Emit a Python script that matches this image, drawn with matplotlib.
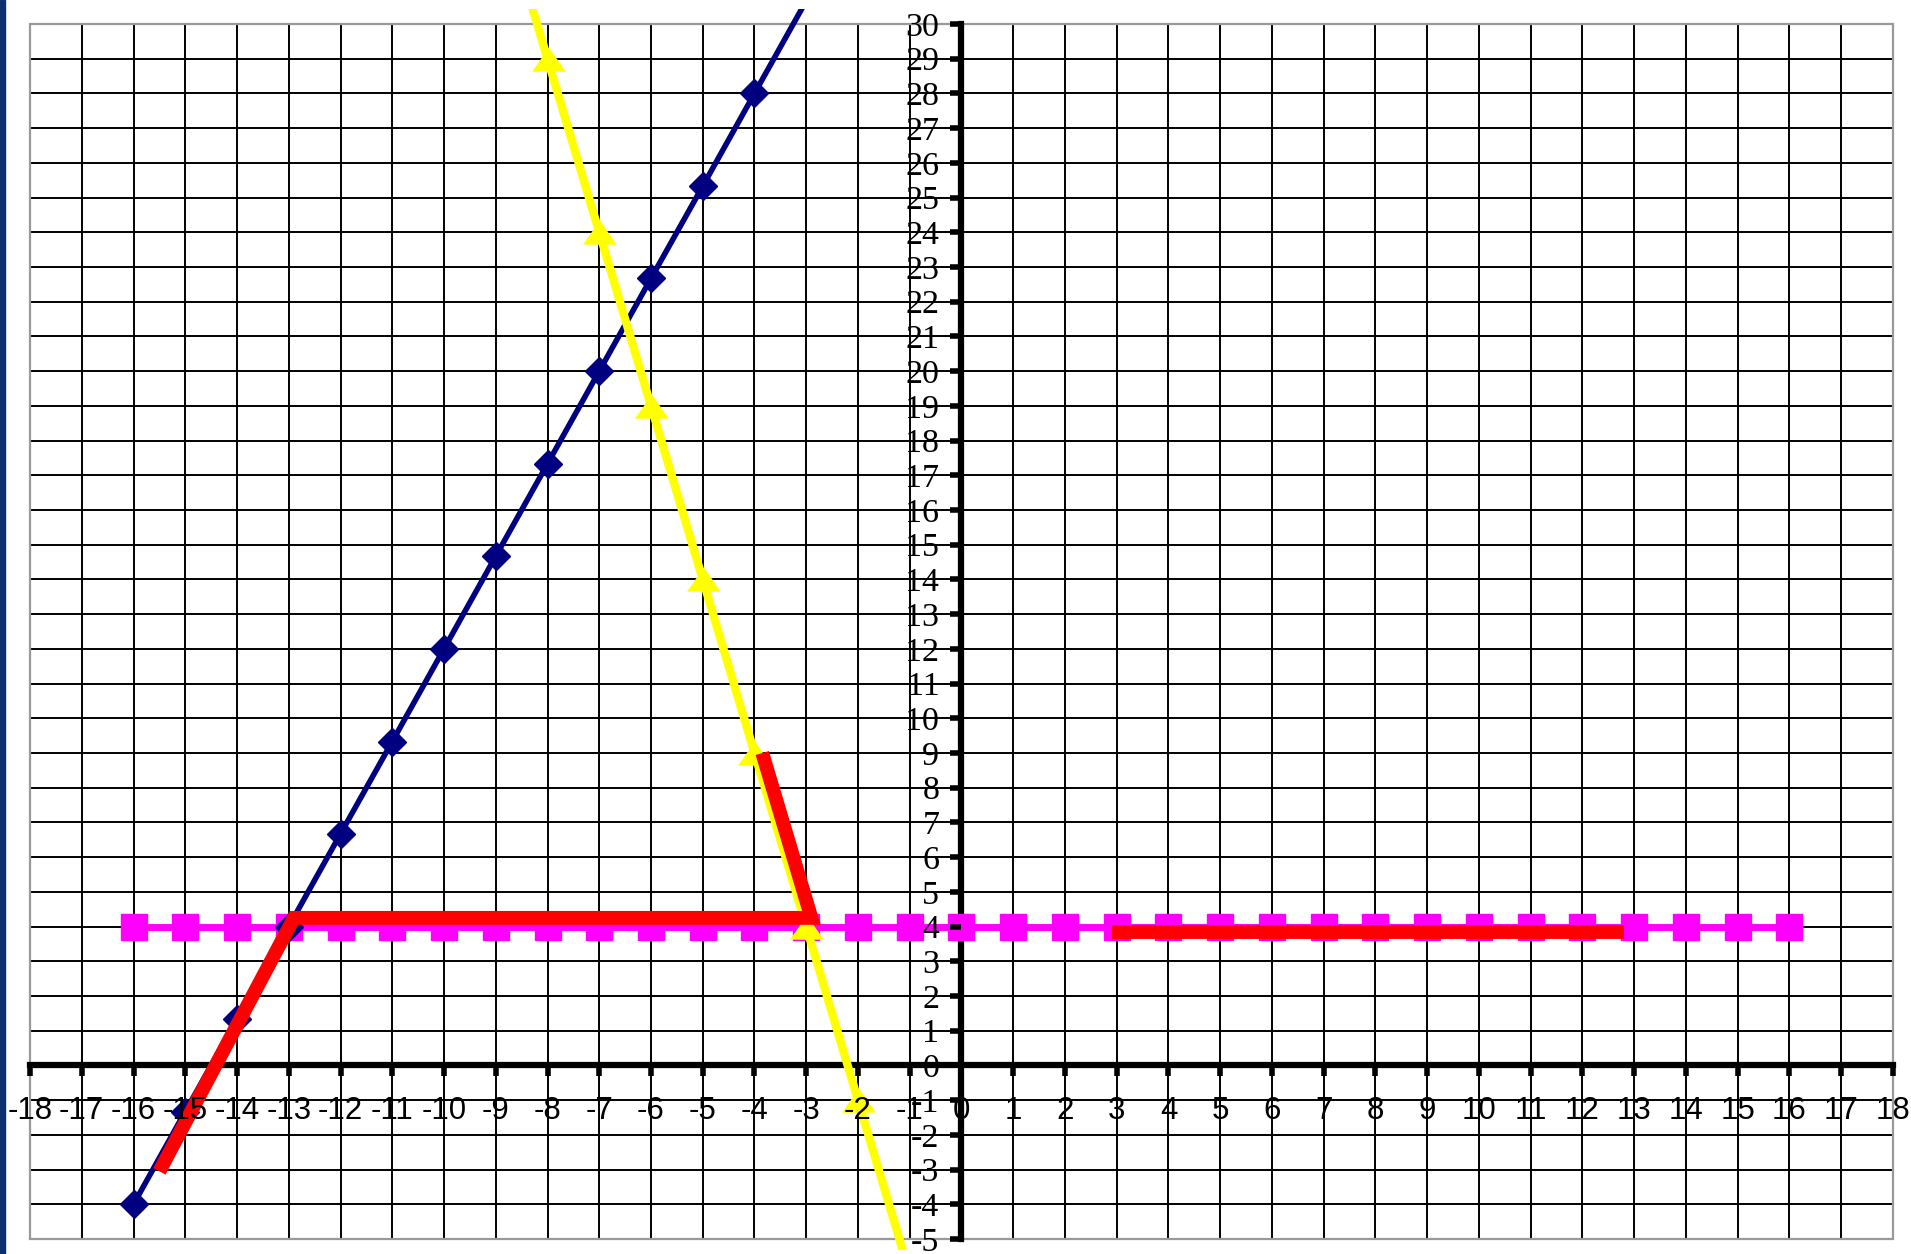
import numpy as np
import matplotlib.pyplot as plt
from matplotlib.patches import Rectangle

plt.rcParams['axes.unicode_minus'] = False

# datos
x_ticks = np.arange(-18, 19)
y_ticks = np.arange(-5, 31)

azul_x = [-16, -15, -14, -13, -12, -11, -10, -9, -8, -7, -6, -5, -4, -3]
azul_y = [-4, -1.33, 1.33, 4, 6.67, 9.33, 12, 14.67, 17.33, 20, 22.67, 25.33, 28, 30.67]

amarillo_x = [-9, -8, -7, -6, -5, -4, -3, -2, -1]
amarillo_y = [34, 29, 24, 19, 14, 9, 4, -1, -6]

magenta_x = list(range(-16, 17))
magenta_y = [4] * len(magenta_x)

rojo1_x = [-15.5, -12.9, -2.9, -3.85]
rojo1_y = [-3.05, 4.25, 4.25, 9.0]
rojo2_x = [2.9, 12.8]
rojo2_y = [3.85, 3.85]

fig = plt.figure(figsize=(19.11, 12.54), dpi=100)
ax = fig.add_axes([30 / 1911, 15 / 1254, 1863 / 1911, 1215 / 1254])
fig.patches.append(Rectangle((0, 0), 5 / 1911, 1, transform=fig.transFigure,
                             color='#0a3070', zorder=0))

ax.set_xlim(-18, 18)
ax.set_ylim(-5, 30)

# cuadricula
ax.vlines(x_ticks, -5, 30, color='black', lw=1.4, zorder=0.5)
ax.hlines(y_ticks, -18, 18, color='black', lw=1.4, zorder=0.5)

# marco gris
ax.add_patch(Rectangle((0, 0), 1, 1, transform=ax.transAxes, fill=False,
                       edgecolor='#999999', lw=1.6, zorder=0.8, clip_on=False))

# ejes en el origen
for s in ['top', 'right']:
    ax.spines[s].set_visible(False)
ax.spines['left'].set_position(('data', 0))
ax.spines['bottom'].set_position(('data', 0))
for s in ['left', 'bottom']:
    ax.spines[s].set_linewidth(4.5)
    ax.spines[s].set_color('black')
    ax.spines[s].set_zorder(1)

ax.set_xticks(x_ticks)
ax.set_yticks(y_ticks)
ax.tick_params(axis='x', direction='out', length=8, width=4, pad=14,
               labelsize=22.5)
ax.tick_params(axis='y', direction='out', length=8, width=4, pad=8,
               labelsize=24.5)
for t in ax.get_xticklabels():
    t.set_family('Liberation Sans')
for t in ax.get_yticklabels():
    t.set_family('Liberation Serif')
ax.xaxis.set_zorder(5)
ax.yaxis.set_zorder(5)

clip = Rectangle((0, -0.009), 1, 1.021, transform=ax.transAxes)

plt.plot(magenta_x, magenta_y, color='#FF00FF', lw=5, marker='s',
         markersize=19, zorder=2)
l_azul, = plt.plot(azul_x, azul_y, color='#000080', lw=4, marker='D',
                   markersize=14, markevery=slice(0, 13), zorder=2.1)
tri = [(-1, -0.72), (1, -0.72), (0, 0.72)]
l_amar, = plt.plot(amarillo_x, amarillo_y, color='#FFFF00', lw=6, marker=tri,
                   markersize=23, markevery=slice(1, 8), zorder=2.2)
l_azul.set_clip_path(clip)
l_amar.set_clip_path(clip)

plt.plot(rojo1_x, rojo1_y, color='#FF0000', lw=10, solid_capstyle='butt',
         solid_joinstyle='miter', zorder=3)
plt.plot(rojo2_x, rojo2_y, color='#FF0000', lw=10, solid_capstyle='butt',
         zorder=3)

plt.savefig('out.png', dpi=100)
